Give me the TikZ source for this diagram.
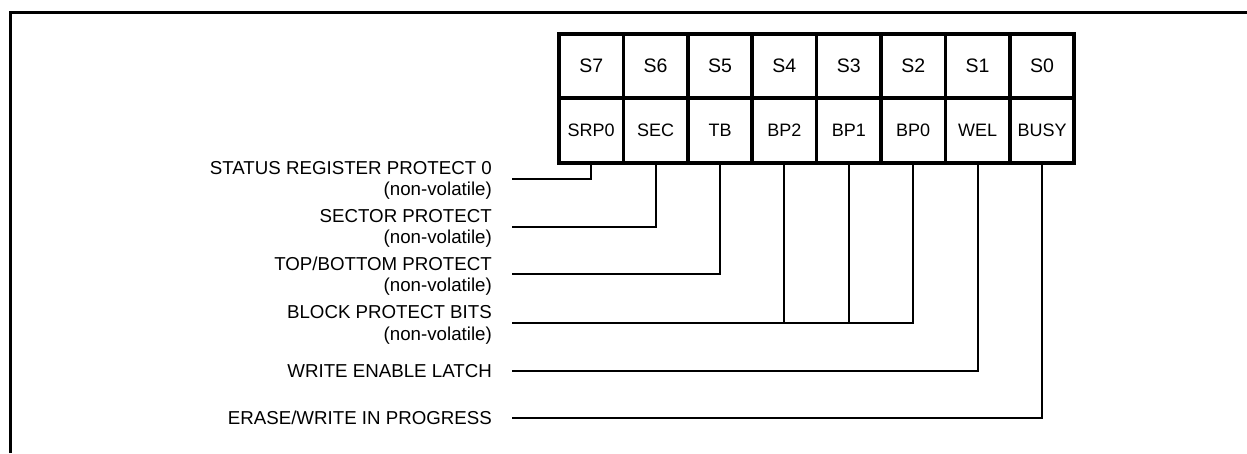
\documentclass[tikz,border=0pt]{standalone}
\usepackage{fontspec}
\setmainfont{Liberation Sans}
\begin{document}
\begin{tikzpicture}[x=1pt,y=-1pt,
  cellbox/.style={draw,line width=3.6pt,minimum width=64.4pt,minimum height=64.5pt,inner sep=0pt,outer sep=0pt,anchor=center},
  toplab/.style={font=\fontsize{19.5}{22}\selectfont},
  botlab/.style={font=\fontsize{18}{21}\selectfont},
  desc/.style={anchor=north east,inner sep=0pt,align=right,font=\fontsize{18.7}{21.5}\selectfont},
  conn/.style={line width=2pt}]
\useasboundingbox (0,0) rectangle (1247,453);
% frame (top and left edges)
\draw[line width=2.6pt] (10.5,453) -- (10.5,12.2) -- (1247,12.2);
% register cells
\foreach \i/\t/\b [count=\k from 0] in {7/S7/SRP0,6/S6/SEC,5/S5/TB,4/S4/BP2,3/S3/BP1,2/S2/BP0,1/S1/WEL,0/S0/BUSY}{
  \node[cellbox,toplab] (s\i) at ({559+64.4*(\k+0.5)},66) {\t};
  \node[cellbox,botlab] (b\i) at ({559+64.4*(\k+0.5)},130.5) {\b};
}
% descriptions
\node[desc] (d7) at (492,161.2) {STATUS REGISTER PROTECT 0\\(non-volatile)};
\node[desc] (d6) at (492,208.8) {SECTOR PROTECT\\(non-volatile)};
\node[desc] (d5) at (492,256.5) {TOP/BOTTOM PROTECT\\(non-volatile)};
\node[desc] (d4) at (492,305.5) {BLOCK PROTECT BITS\\(non-volatile)};
\node[desc] (d1) at (492,364) {WRITE ENABLE LATCH};
\node[desc] (d0) at (492,411) {ERASE/WRITE IN PROGRESS};
% connector start points
\coordinate (c7) at (512,178.5);
\coordinate (c6) at (512,226.5);
\coordinate (c5) at (512,273.5);
\coordinate (c4) at (512,322.5);
\coordinate (c1) at (512,370.5);
\coordinate (c0) at (512,417.5);
% connectors
\draw[conn] (c7) -| (b7.south);
\draw[conn] (c6) -| (b6.south);
\draw[conn] (c5) -| (b5.south);
\draw[conn] (c4) -| (b2.south);
\draw[conn] (b4.south) -- (b4.south |- c4);
\draw[conn] (b3.south) -- (b3.south |- c4);
\draw[conn] (c1) -| (b1.south);
\draw[conn] (c0) -| (b0.south);
\end{tikzpicture}
\end{document}
